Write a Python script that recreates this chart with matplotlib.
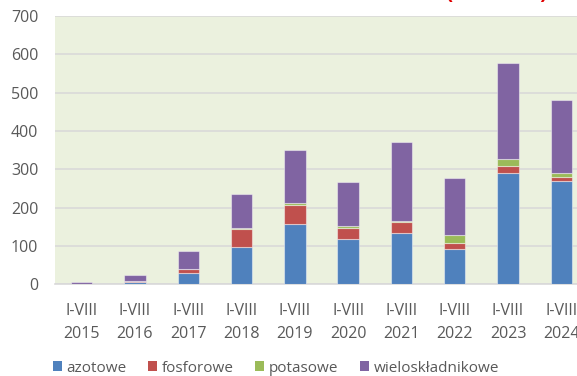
import matplotlib.pyplot as plt
import numpy as np
from matplotlib.patches import Patch

plt.rcParams["font.family"] = ["Open Sans", "DejaVu Sans"]

# Fertiliser volumes, January-August of each year
years = ["2015", "2016", "2017", "2018", "2019", "2020", "2021", "2022", "2023", "2024"]
period = "I-VIII"
azotowe = [1, 6, 29, 97, 157, 119, 133, 91, 290, 270]
fosforowe = [0, 2, 11, 47, 50, 28, 30, 16, 19, 11]
potasowe = [0, 0, 1, 3, 4, 5, 2, 22, 19, 9]
wieloskladnikowe = [5, 15, 46, 88, 140, 116, 206, 148, 249, 191]

series = [
    ("azotowe", azotowe, "#4f81bd"),
    ("fosforowe", fosforowe, "#c0504d"),
    ("potasowe", potasowe, "#9bbb59"),
    ("wieloskładnikowe", wieloskladnikowe, "#8064a2"),
]

TEXT = "#595959"
BG = "#ebf1de"

fig = plt.figure(figsize=(5.77, 3.76), dpi=100)
ax = fig.add_axes([55 / 577, 0.2439, 533 / 577, 0.7136])
ax.set_facecolor(BG)

x = np.arange(len(years))
bottom = np.zeros(len(years))
for name, vals, color in series:
    vals = np.array(vals, dtype=float)
    ax.bar(x, vals, width=0.4, bottom=bottom, color=color,
           edgecolor=(1, 1, 1, 0.45), linewidth=0.8, label=name, zorder=3)
    bottom += vals

ax.set_xlim(-0.5, len(years) - 0.5)
ax.set_ylim(0, 700)
ax.set_yticks(range(0, 701, 100))
ax.grid(axis="y", color="#d9d9d9", linewidth=1.2, zorder=0)
for side in ("top", "right", "left"):
    ax.spines[side].set_visible(False)
ax.spines["bottom"].set_color("#d9d9d9")
ax.spines["bottom"].set_linewidth(1.2)

ax.set_xticks(x)
ax.set_xticklabels([f"{period}\n{y}" for y in years], linespacing=1.55)
ax.tick_params(axis="x", length=0, pad=13.5, labelsize=11.5, labelcolor=TEXT)
ax.tick_params(axis="y", length=0, pad=12, labelsize=11.5, labelcolor=TEXT)

handles = [Patch(facecolor=c, label=n) for n, _, c in series]
fig.legend(handles=handles, loc="center", bbox_to_anchor=(276 / 577, 1 - 368 / 376),
           ncol=4, frameon=False, fontsize=11, labelcolor=TEXT,
           handlelength=0.6, handleheight=0.6, handletextpad=0.3,
           columnspacing=1.4)

# title sits mostly above the visible area
fig.text(497 / 577, 1.0 + 2.5 / 376, "(mln EUR)", color="#e00000", fontsize=15,
         fontweight="bold", ha="center", va="baseline")

fig.savefig("out.png", dpi=100, facecolor="white")
